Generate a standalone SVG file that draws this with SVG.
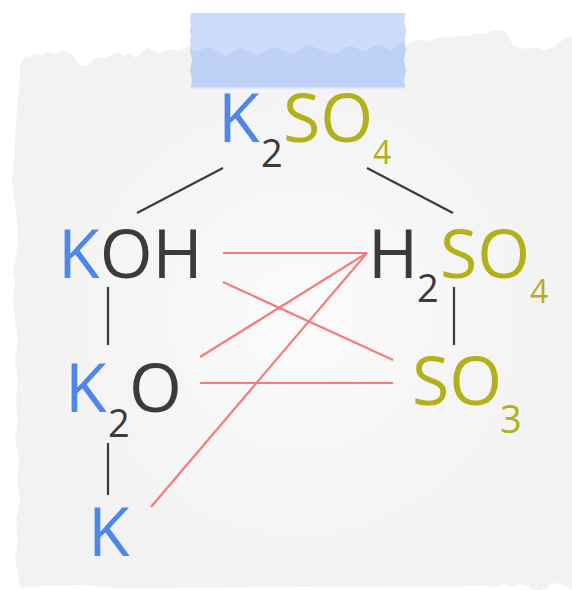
<svg xmlns="http://www.w3.org/2000/svg" width="572" height="590" viewBox="0 0 572 590">
<defs>
<radialGradient id="paperGrad" cx="300" cy="320" r="300" gradientUnits="userSpaceOnUse">
<stop offset="0" stop-color="#fbfbfb"/>
<stop offset="0.6" stop-color="#f5f5f5"/>
<stop offset="1" stop-color="#f2f2f2"/>
</radialGradient>
<style>
.f{font-family:"Open Sans","Noto Sans","DejaVu Sans",sans-serif;}
.big{font-size:68px;}
.sub{font-size:38px;}
.sub4{font-size:32px;}
.k{fill:#4f86ec;}
.so{fill:#b3b01a;}
.d{fill:#3b3b3b;}
.tree{stroke:#3b3b3b;stroke-width:2.2;fill:none;}
.rx{stroke:#f77b7b;stroke-width:2.2;fill:none;}
</style>
</defs>
<rect width="572" height="590" fill="#ffffff"/>
<path id="paper" fill="url(#paperGrad)" d="M20,68 L23,60 26,56 30,57 34,53 40,55 48,52 55,54 62,50 70,53 76,60 80,66 86,66 92,60 98,57 106,58 112,55 118,52 124,56 130,54 136,58 142,52 148,47 154,51 160,53 166,50 172,49 178,51 184,48 190,45 L406,45 412,42 420,40 428,41 436,38 444,37 452,38 460,35 468,36 476,33 484,34 492,31 500,30 506,33 510,40 514,46 520,48 528,49 536,47 544,50 552,48 560,42 566,38 572,37 L572,590 L560,584 552,583 546,588 540,590 L534,590 528,586 520,584 512,587 504,584 498,587 492,586 L120,588 80,585 40,586 20,588 L18,575 15,560 18,540 16,520 20,500 17,480 19,460 15,440 18,420 16,400 18,380 15,360 18,340 15,320 13,300 15,280 13,273 17,250 18,227 15,205 12,180 14,160 15,140 17,110 19,90 Z"/>
<g id="tape">
<path fill="#c0d1f7" d="M191,13 L405,13 L404,22 406,30 404,40 406,50 404,60 406,70 404,80 405,88 L191,88 L192,80 190,70 192,60 190,50 192,40 190,30 192,22 Z"/>
<path fill="#cbdcfd" d="M191,13 L405,13 L404,22 406,30 405,42 L398,44 392,50 386,48 380,44 372,47 366,52 360,50 352,46 344,48 336,54 328,52 318,49 310,45 300,49 292,54 284,51 276,47 266,50 258,55 250,52 242,48 234,51 226,56 218,52 210,47 202,49 196,52 191,50 L190,40 192,30 190,22 Z"/>
<line x1="191" y1="88" x2="405" y2="88" stroke="#dfe7fb" stroke-width="1.5"/>
</g>
<g id="connectors">
<line class="tree" x1="223" y1="168" x2="137" y2="213"/>
<line class="tree" x1="367" y1="168" x2="453" y2="213"/>
<line class="tree" x1="108" y1="287" x2="108" y2="345"/>
<line class="tree" x1="454" y1="287" x2="454" y2="345"/>
<line class="tree" x1="108" y1="443" x2="108" y2="495"/>
<line class="rx" x1="223" y1="253" x2="367" y2="253"/>
<line class="rx" x1="223" y1="282" x2="393" y2="360"/>
<line class="rx" x1="200" y1="357" x2="367" y2="253"/>
<line class="rx" x1="200" y1="383" x2="393" y2="383"/>
<line class="rx" x1="151" y1="507" x2="367" y2="253"/>
</g>
<g id="node-K2SO4" class="f">
<text class="big k" x="218" y="142">K</text>
<text class="sub d" x="261" y="167">2</text>
<text class="big so" x="283" y="142">SO</text>
<text class="sub4 so" x="373" y="164">4</text>
</g>
<g id="node-KOH" class="f">
<text class="big" x="58" y="278"><tspan class="k">K</tspan><tspan class="d">OH</tspan></text>
</g>
<g id="node-H2SO4" class="f">
<text class="big d" x="368" y="278">H</text>
<text class="sub d" x="417" y="302">2</text>
<text class="big so" x="440" y="278">SO</text>
<text class="sub4 so" x="530" y="303">4</text>
</g>
<g id="node-K2O" class="f">
<text class="big k" x="65" y="412">K</text>
<text class="sub d" x="108" y="437">2</text>
<text class="big d" x="129" y="412">O</text>
</g>
<g id="node-SO3" class="f">
<text class="big so" x="412" y="405">SO</text>
<text class="sub so" x="500" y="433">3</text>
</g>
<g id="node-K" class="f">
<text class="big k" x="88" y="556">K</text>
</g>
</svg>
